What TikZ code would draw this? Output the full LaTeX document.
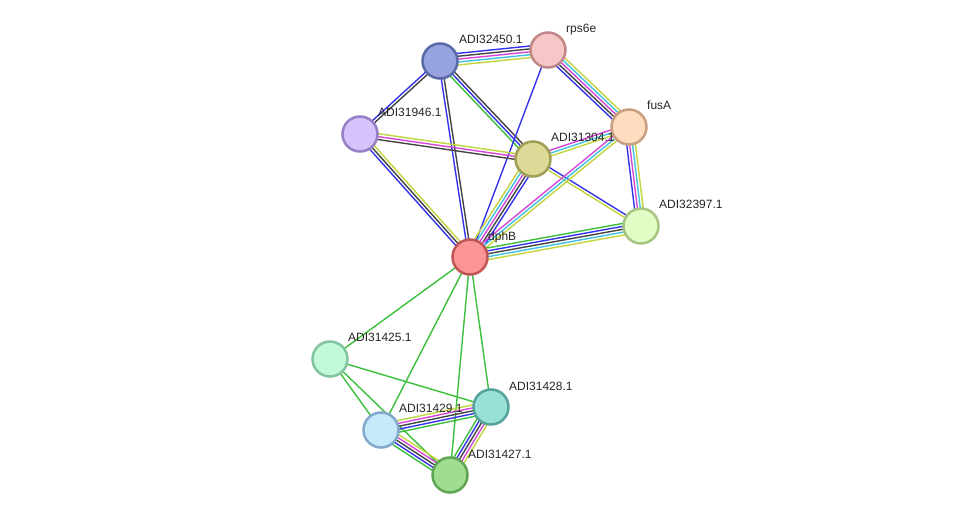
\documentclass[tikz,border=0pt]{standalone}
\usepackage{fontspec}
\setmainfont{Liberation Sans}
\usetikzlibrary{calc,backgrounds}
\definecolor{sgreen}{HTML}{3CC03C}
\definecolor{sblue}{HTML}{3333EE}
\definecolor{sblack}{HTML}{444444}
\definecolor{smag}{HTML}{D846D8}
\definecolor{scyan}{HTML}{3FC3E0}
\definecolor{syel}{HTML}{C3D43C}
\tikzset{
  prot/.style={circle, draw, line width=2.5pt, minimum size=35pt, inner sep=0pt},
  lbl/.style={anchor=base west, inner sep=0pt, font=\fontsize{12}{14}\selectfont, text=black!85},
  ln/.style={line width=1.4pt}
}
\newcommand\medge[4]{%
  \foreach \c [count=\i] in {#4} {
    \pgfmathsetmacro\off{(\i-(#1+1)/2)*2.9}
    \draw[ln,\c] ($(#2)!\off pt!90:(#3)$) -- ($(#3)!\off pt!-90:(#2)$);
  }}
\begin{document}
\begin{tikzpicture}[x=1pt,y=-1pt]
\useasboundingbox (0,0) rectangle (975,521);
% nodes
\node[prot, fill={rgb,255:red,151;green,163;blue,222}, draw={rgb,255:red,90;green,106;blue,166}] (a32450) at (440,61) {};
\node[prot, fill={rgb,255:red,247;green,198;blue,198}, draw={rgb,255:red,192;green,136;blue,136}] (rps6e) at (548,50) {};
\node[prot, fill={rgb,255:red,212;green,196;blue,251}, draw={rgb,255:red,149;green,128;blue,198}] (a31946) at (360,134) {};
\node[prot, fill={rgb,255:red,220;green,218;blue,150}, draw={rgb,255:red,160;green,159;blue,85}] (a31304) at (533,159) {};
\node[prot, fill={rgb,255:red,253;green,220;blue,191}, draw={rgb,255:red,201;green,160;blue,127}] (fusA) at (629,127) {};
\node[prot, fill={rgb,255:red,225;green,252;blue,196}, draw={rgb,255:red,168;green,196;blue,130}] (a32397) at (641,226) {};
\node[prot, fill={rgb,255:red,251;green,149;blue,149}, draw={rgb,255:red,192;green,85;blue,85}] (dphB) at (470,257) {};
\node[prot, fill={rgb,255:red,194;green,249;blue,218}, draw={rgb,255:red,130;green,196;blue,160}] (a31425) at (330,359) {};
\node[prot, fill={rgb,255:red,152;green,224;blue,216}, draw={rgb,255:red,85;green,163;blue,155}] (a31428) at (491,407) {};
\node[prot, fill={rgb,255:red,198;green,233;blue,252}, draw={rgb,255:red,132;green,170;blue,203}] (a31429) at (381,430) {};
\node[prot, fill={rgb,255:red,160;green,221;blue,144}, draw={rgb,255:red,96;green,165;blue,83}] (a31427) at (450,475) {};
% labels
\node[lbl] (l32450) at ($(a32450)+(19,-17)$) {ADI32450.1};
\node[lbl] (lrps6e) at ($(rps6e)+(18,-17)$) {rps6e};
\node[lbl] (l31946) at ($(a31946)+(18,-17)$) {ADI31946.1};
\node[lbl] (l31304) at ($(a31304)+(18,-17)$) {ADI31304.1};
\node[lbl] (lfusA) at ($(fusA)+(18,-17)$) {fusA};
\node[lbl] (l32397) at ($(a32397)+(18,-17)$) {ADI32397.1};
\node[lbl] (ldphB) at ($(dphB)+(18,-16)$) {dphB};
\node[lbl] (l31425) at ($(a31425)+(18,-17)$) {ADI31425.1};
\node[lbl] (l31428) at ($(a31428)+(18,-17)$) {ADI31428.1};
\node[lbl] (l31429) at ($(a31429)+(18,-17)$) {ADI31429.1};
\node[lbl] (l31427) at ($(a31427)+(18,-17)$) {ADI31427.1};
% edges
\begin{pgfonlayer}{background}
\fill[white] (0,0) rectangle (975,521);
\medge{5}{rps6e}{a32450}{sblue,sblack,smag,scyan,syel}
\medge{2}{a32450}{a31946}{sblue,sblack}
\medge{2}{a32450}{dphB}{sblue,sblack}
\medge{3}{a32450}{a31304}{sgreen,sblue,sblack}
\medge{1}{rps6e}{dphB}{sblue}
\medge{5}{rps6e}{fusA}{sblue,sblack,smag,scyan,syel}
\medge{3}{a31946}{a31304}{sblack,smag,syel}
\medge{3}{a31946}{dphB}{sblue,sblack,syel}
\medge{3}{a31304}{fusA}{syel,scyan,smag}
\medge{5}{a31304}{dphB}{syel,scyan,smag,sblack,sblue}
\medge{2}{a31304}{a32397}{syel,sblue}
\medge{3}{fusA}{dphB}{smag,scyan,syel}
\medge{4}{fusA}{a32397}{sblue,smag,scyan,syel}
\medge{5}{dphB}{a32397}{syel,scyan,sblack,sblue,sgreen}
\medge{1}{dphB}{a31425}{sgreen}
\medge{1}{dphB}{a31429}{sgreen}
\medge{1}{dphB}{a31427}{sgreen}
\medge{1}{dphB}{a31428}{sgreen}
\medge{1}{a31425}{a31428}{sgreen}
\medge{1}{a31425}{a31429}{sgreen}
\medge{1}{a31425}{a31427}{sgreen}
\medge{5}{a31429}{a31428}{sgreen,sblue,sblack,smag,syel}
\medge{5}{a31429}{a31427}{sgreen,sblue,sblack,smag,syel}
\medge{5}{a31428}{a31427}{sgreen,sblue,sblack,smag,syel}
\end{pgfonlayer}
\end{tikzpicture}
\end{document}
